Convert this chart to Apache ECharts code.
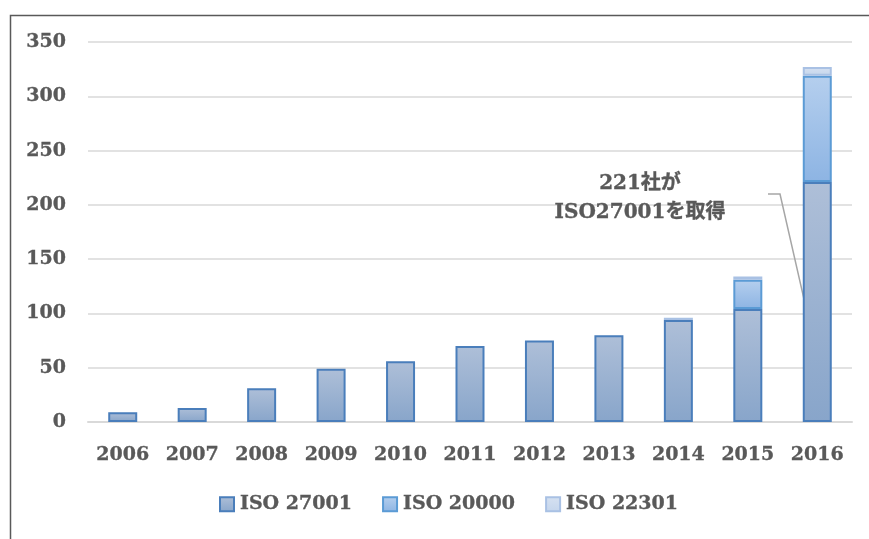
<!DOCTYPE html>
<html>
<head>
<meta charset="utf-8">
<script src="https://cdn.jsdelivr.net/npm/echarts@6/dist/echarts.min.js"></script>
<style>
  html, body { margin: 0; padding: 0; background: #fff; }
  #main { width: 869px; height: 539px; }
</style>
</head>
<body>
<div id="main"></div>
<script>
// 年度・各規格の取得社数
var years = ["2006", "2007", "2008", "2009", "2010", "2011", "2012", "2013", "2014", "2015", "2016"];
var iso27001 = [9, 13, 31, 49, 56, 70, 75, 80, 94, 104, 221];
var iso20000 = [0, 0, 0, 0, 0, 0, 0, 0, 0, 27, 98];
var iso22301 = [0, 0, 0, 0, 0, 0, 0, 0, 2, 3, 8];
var yTicks = [0, 50, 100, 150, 200, 250, 300, 350];

var font = "'DejaVu Serif', 'Noto Sans CJK JP', serif";
var labelStyle = {
  fontFamily: font, fontSize: 19, fontWeight: "bold", color: "#595959",
  textBorderColor: "#595959", textBorderWidth: 0.35
};

function grad(top, bottom) {
  return new echarts.graphic.LinearGradient(0, 0, 0, 1, [
    { offset: 0, color: top },
    { offset: 1, color: bottom }
  ]);
}

function barSeries(name, data, top, bottom, border) {
  return {
    name: name,
    type: "bar",
    stack: "total",
    barWidth: 29,
    // 0 の年は枠線を描かない
    data: data.map(function (v) { return v === 0 ? null : v; }),
    itemStyle: { color: grad(top, bottom), borderColor: border, borderWidth: 2 }
  };
}

var chart = echarts.init(document.getElementById("main"));
chart.setOption({
  backgroundColor: "#fff",
  animation: false,
  textStyle: { fontFamily: font },
  grid: { left: 88, right: 17, top: 42, bottom: 117 },
  legend: {
    bottom: 20,
    left: 214,
    itemWidth: 14,
    itemHeight: 14,
    itemGap: 30,
    icon: "rect",
    textStyle: Object.assign({}, labelStyle, { padding: [0, 0, 0, 1] }),
    data: ["ISO 27001", "ISO 20000", "ISO 22301"]
  },
  xAxis: {
    type: "category",
    data: years,
    axisTick: { show: false },
    axisLine: { lineStyle: { color: "#d9d9d9", width: 2 } },
    axisLabel: Object.assign({ margin: 24 }, labelStyle)
  },
  yAxis: {
    type: "value",
    min: yTicks[0],
    max: yTicks[yTicks.length - 1],
    interval: 50,
    axisLine: { show: false },
    axisTick: { show: false },
    splitLine: { lineStyle: { color: "#d9d9d9", width: 1.5 } },
    axisLabel: Object.assign({ margin: 22 }, labelStyle)
  },
  series: [
    barSeries("ISO 27001", iso27001, "#aebfd8", "#88a5ca", "#4a7ebb"),
    barSeries("ISO 20000", iso20000, "#b5cfee", "#8db4e3", "#5b9bd5"),
    barSeries("ISO 22301", iso22301, "#d6e1f1", "#c4d5ec", "#a9c1e4")
  ]
});

// 注記と引き出し線
var end = chart.convertToPixel({ xAxisIndex: 0, yAxisIndex: 0 }, ["2016", 112]);
chart.setOption({
  graphic: [
    {
      type: "rect",
      left: 8, top: 13,
      shape: { width: 880, height: 560 },
      style: { fill: null, stroke: "#595959", lineWidth: 1.5 },
      silent: true
    },
    {
      type: "text",
      x: 640, y: 198,
      style: {
        text: "221社が\nISO27001を取得",
        align: "center",
        verticalAlign: "middle",
        lineHeight: 29,
        font: "bold 20px " + font,
        fill: "#595959",
        stroke: "#595959",
        lineWidth: 0.35
      }
    },
    {
      type: "polyline",
      shape: { points: [[768, 194], [780, 194], [end[0] - 13, end[1]]] },
      style: { stroke: "#a6a6a6", lineWidth: 1.5, fill: null }
    }
  ]
});
</script>
</body>
</html>
